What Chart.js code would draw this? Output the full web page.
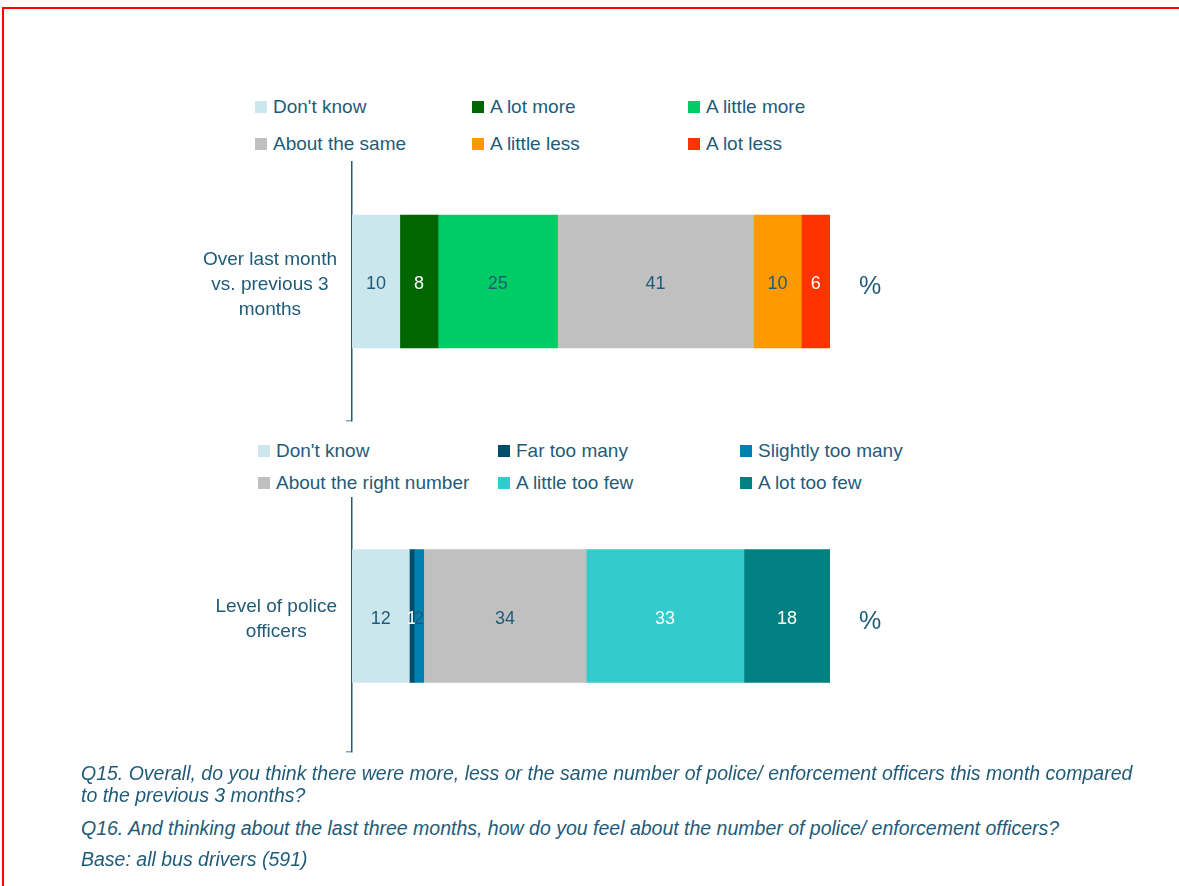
<!DOCTYPE html>
<html>
<head>
<meta charset="utf-8">
<title>Police / enforcement officers</title>
<script src="https://cdn.jsdelivr.net/npm/chart.js@4.4.1/dist/chart.umd.min.js"></script>
<style>
  body { margin: 0; background: #fff; width: 1179px; height: 886px; overflow: hidden; position: relative;
         font-family: 'Liberation Sans', Arial, sans-serif; color: #1F5B78; }
  .frame { position: absolute; left: 2px; top: 7px; width: 1300px; height: 1000px;
           border-top: 2px solid #ff0000; border-left: 2px solid #ff0000; }
  canvas { position: absolute; left: 0; }
  .legend { position: absolute; left: 200px; width: 800px; background: #fff; z-index: 2; }
  .legend .item { position: absolute; font-size: 19px; line-height: 22px; white-space: nowrap; }
  .legend .box { position: absolute; left: 0; top: 5px; width: 12px; height: 12px; }
  .legend .txt { position: absolute; left: 18px; top: 0; }
  .note { position: absolute; left: 81px; font-size: 19.5px; font-style: italic; line-height: 22px; white-space: nowrap; }
</style>
</head>
<body>
<div class="frame"></div>
<canvas id="chartQ15" width="1179" height="471" style="top:0px"></canvas>
<canvas id="chartQ16" width="1179" height="382" style="top:420px"></canvas>
<div id="legendQ15" class="legend" style="top:88px;height:73px"></div>
<div id="legendQ16" class="legend" style="top:436px;height:61px"></div>

<div class="note" style="top:762px">Q15. Overall, do you think there were more, less or the same number of police/ enforcement officers this month compared</div>
<div class="note" style="top:784px">to the previous 3 months?</div>
<div class="note" style="top:817px">Q16. And thinking about the last three months, how do you feel about the number of police/ enforcement officers?</div>
<div class="note" style="top:848px">Base: all bus drivers (591)</div>

<script>
// datos
const q15Categories = [['Over last month', 'vs. previous 3', 'months']];
const q15Series = ["Don't know", 'A lot more', 'A little more', 'About the same', 'A little less', 'A lot less'];
const q15Values = [10, 8, 25, 41, 10, 6];

const q16Categories = [['Level of police', 'officers']];
const q16Series = ["Don't know", 'Far too many', 'Slightly too many', 'About the right number', 'A little too few', 'A lot too few'];
const q16Values = [12, 1, 2, 34, 33, 18];

const textColor = '#1F5B78';
const q15Colors = ['#CCE6EE', '#006600', '#00CC66', '#C0C0C0', '#FF9900', '#FF3300'];
const q15LabelColors = [textColor, '#ffffff', textColor, textColor, textColor, '#ffffff'];
const q16Colors = ['#CCE6EE', '#004C6C', '#0080B0', '#C0C0C0', '#33CCCC', '#008080'];
const q16LabelColors = [textColor, '#ffffff', textColor, textColor, '#ffffff', '#ffffff'];

Chart.defaults.font.family = "'Liberation Sans', Arial, sans-serif";
Chart.defaults.color = textColor;

// numeros dentro de las barras y el signo %
const valueLabels = {
    id: 'valueLabels',
    afterDatasetsDraw(chart) {
        const ctx = chart.ctx;
        ctx.save();
        ctx.textAlign = 'center';
        ctx.textBaseline = 'middle';
        ctx.font = "18px 'Liberation Sans', Arial, sans-serif";
        let barY = null;
        chart.data.datasets.forEach((ds, i) => {
            chart.getDatasetMeta(i).data.forEach((bar, j) => {
                ctx.fillStyle = ds.labelColor;
                ctx.fillText(ds.data[j], (bar.x + bar.base) / 2, bar.y + 3);
                barY = bar.y;
            });
        });
        ctx.font = "25px 'Liberation Sans', Arial, sans-serif";
        ctx.fillStyle = textColor;
        ctx.fillText('%', chart.chartArea.right + 40, barY + 6);
        ctx.restore();
    }
};

function crearGrafico(id, categorias, series, valores, colores, colLabels, area) {
    const canvas = document.getElementById(id);
    const ctx = canvas.getContext('2d');
    const offsetTop = parseInt(canvas.style.top);
    return new Chart(ctx, {
        type: 'bar',
        data: {
            labels: categorias,
            datasets: series.map((s, i) => ({
                label: s,
                data: [valores[i]],
                backgroundColor: colores[i],
                labelColor: colLabels[i],
                borderWidth: 0,
                barThickness: 133
            }))
        },
        options: {
            indexAxis: 'y',
            responsive: false,
            animation: false,
            layout: {
                padding: {
                    top: area.top - offsetTop,
                    bottom: canvas.height - (area.bottom - offsetTop),
                    left: 0,
                    right: 349
                }
            },
            plugins: {
                legend: { display: false },
                tooltip: { enabled: false }
            },
            scales: {
                x: { stacked: true, min: 0, max: 100, display: false },
                y: {
                    stacked: true,
                    border: { color: textColor, width: 1.5 },
                    grid: { drawOnChartArea: false, tickLength: 6, color: '#7FA6BA', lineWidth: 1.5, offset: true },
                    ticks: { color: textColor, font: { size: 19, lineHeight: 1.32 }, crossAlign: 'center', padding: 9, labelOffset: 3 },
                    afterFit(scale) { scale.width = 352; }
                }
            }
        },
        plugins: [valueLabels]
    });
}

function llenarLeyenda(id, chart, columnas, filas) {
    const cont = document.getElementById(id);
    const top0 = parseInt(cont.style.top);
    const items = chart.options.plugins.legend.labels.generateLabels(chart);
    items.forEach((it, i) => {
        const col = i % 3;
        const row = Math.floor(i / 3);
        const div = document.createElement('div');
        div.className = 'item';
        div.style.left = (columnas[col] - 200) + 'px';
        div.style.top = (filas[row] - top0 - 11) + 'px';
        div.innerHTML = `<span class="box" style="background:${it.fillStyle}"></span><span class="txt">${it.text}</span>`;
        cont.appendChild(div);
    });
}

const g1 = crearGrafico('chartQ15', q15Categories, q15Series, q15Values, q15Colors, q15LabelColors, { top: 142, bottom: 421 });
const g2 = crearGrafico('chartQ16', q16Categories, q16Series, q16Values, q16Colors, q16LabelColors, { top: 480, bottom: 752 });

llenarLeyenda('legendQ15', g1, [255, 472, 688], [107, 144]);
llenarLeyenda('legendQ16', g2, [258, 498, 740], [451, 483]);
</script>
</body>
</html>
